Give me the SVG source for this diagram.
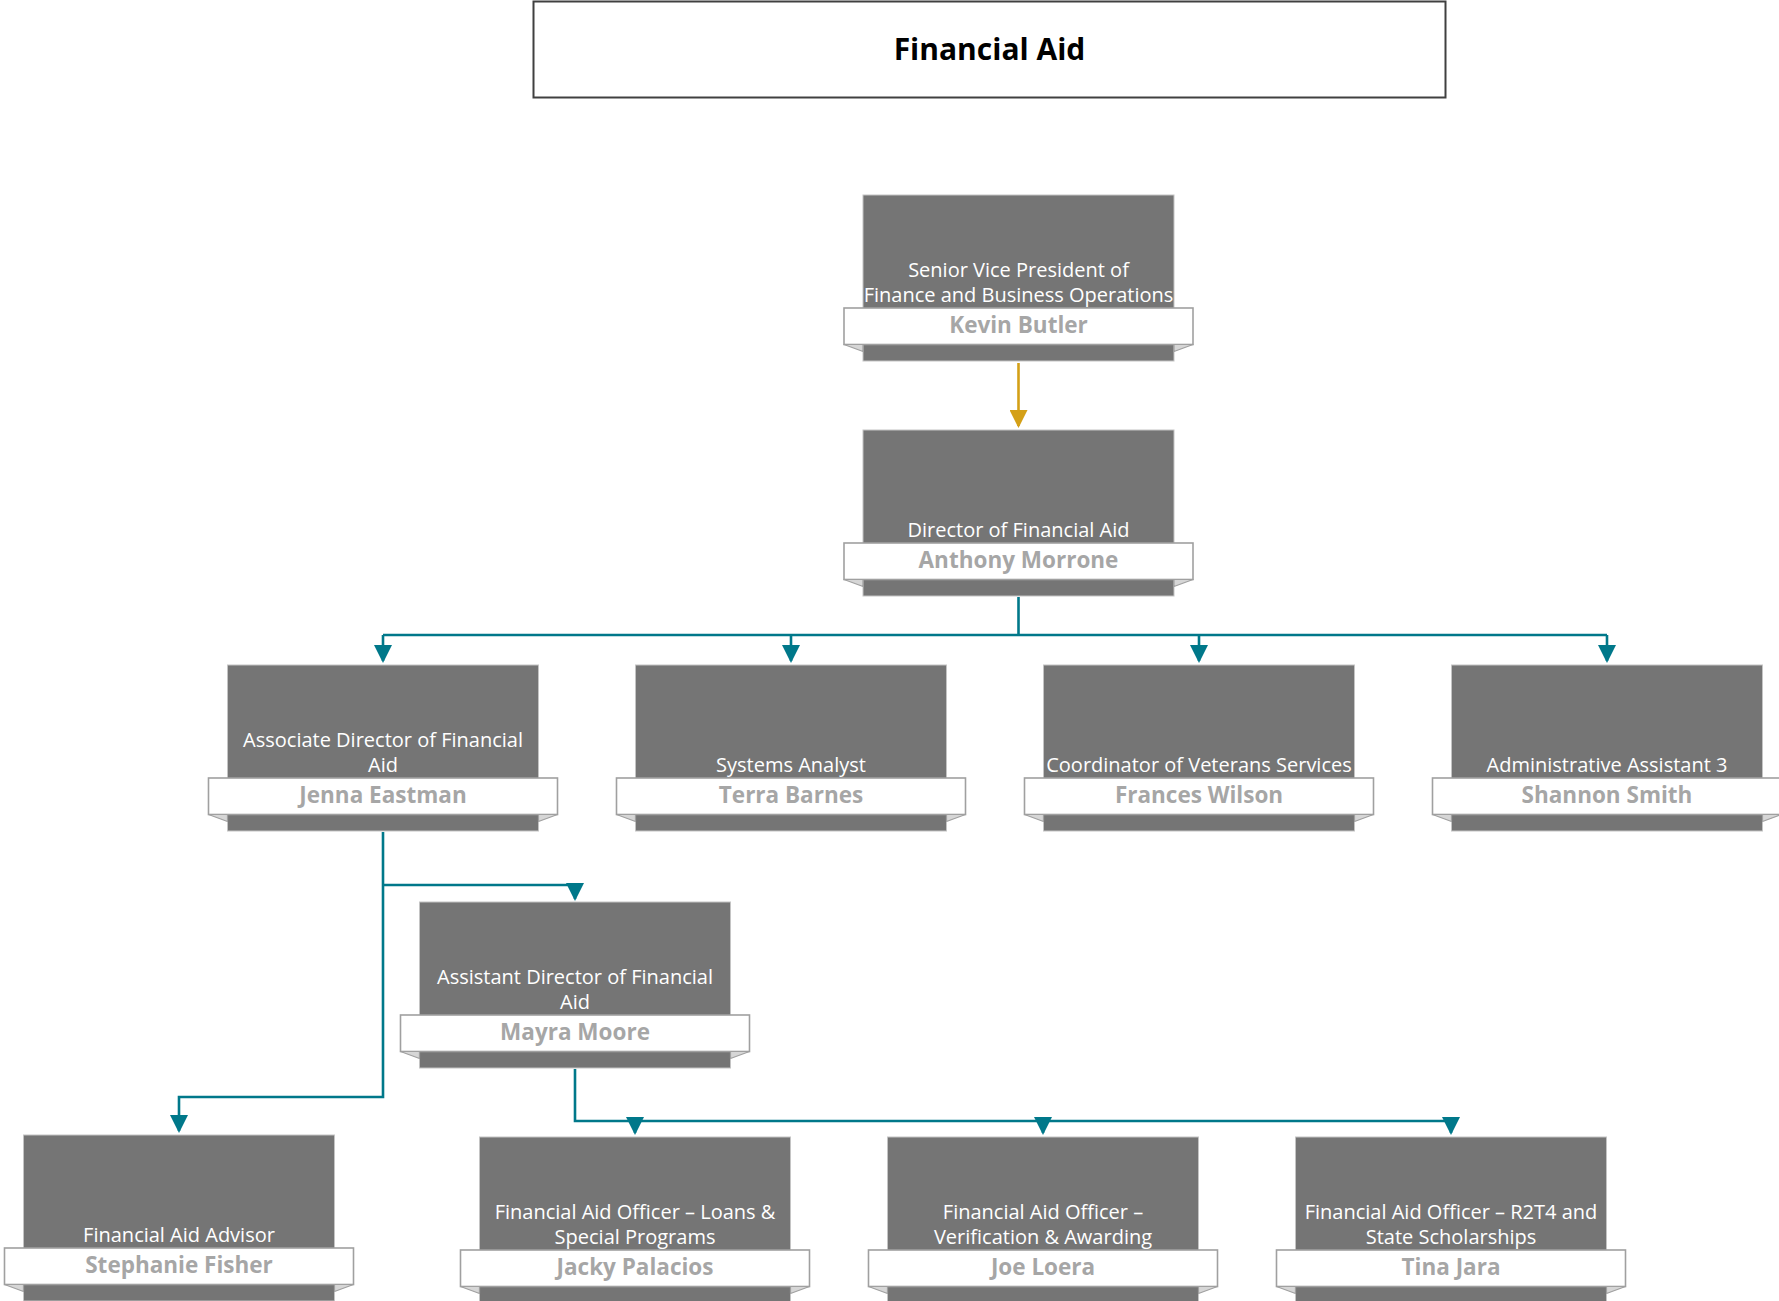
<svg xmlns="http://www.w3.org/2000/svg" width="1779" height="1301" viewBox="0 0 1779 1301">
<style>
.bg{fill:#ffffff}
.box{fill:#757575;stroke:#c4c4c4;stroke-width:1}
.ban{fill:#ffffff;stroke:#a0a0a0;stroke-width:1.6}
.fold{fill:#d6d6d6;stroke:#a0a0a0;stroke-width:1.2;stroke-linejoin:round}
.role{font-family:"Open Sans","Noto Sans","DejaVu Sans",sans-serif;font-size:20px;fill:#ffffff;text-anchor:middle}
.name{font-family:"Open Sans","Noto Sans","DejaVu Sans",sans-serif;font-size:22.5px;font-weight:bold;fill:#a6a6a6;text-anchor:middle}
.title{font-family:"Open Sans","Noto Sans","DejaVu Sans",sans-serif;font-size:30px;font-weight:bold;fill:#000000;text-anchor:middle}
.tl{fill:none;stroke:#00788a;stroke-width:2.6}
.gl{fill:none;stroke:#d4a017;stroke-width:2.6}
</style>
<defs>
<marker id="at" markerUnits="userSpaceOnUse" markerWidth="18" markerHeight="18" refX="16" refY="9" orient="auto"><path d="M0,0 L18,9 L0,18 z" fill="#00788a"/></marker>
<marker id="ag" markerUnits="userSpaceOnUse" markerWidth="18" markerHeight="18" refX="16" refY="9" orient="auto"><path d="M0,0 L18,9 L0,18 z" fill="#d4a017"/></marker>
<g id="card">
<rect class="box" x="-155.5" y="0" width="311" height="166"/>
<rect class="ban" x="-174.5" y="113" width="349" height="36.5"/>
<polygon class="fold" points="-174.5,149.5 -155.5,156.5 -155.5,149.5"/>
<polygon class="fold" points="174.5,149.5 155.5,156.5 155.5,149.5"/>
</g>
</defs>
<rect class="bg" x="0" y="0" width="1779" height="1301"/>

<g id="title">
<rect x="533.5" y="1.5" width="912" height="96" fill="#ffffff" stroke="#404040" stroke-width="2"/>
<text class="title" x="989.5" y="60">Financial Aid</text>
</g>

<g id="connectors">
<path class="gl" d="M1018.5,363 V426" marker-end="url(#ag)"/>
<path class="tl" d="M1018.5,597 V635"/>
<path class="tl" d="M383,635 H1607"/>
<path class="tl" d="M383,635 V661" marker-end="url(#at)"/>
<path class="tl" d="M791,635 V661" marker-end="url(#at)"/>
<path class="tl" d="M1199,635 V661" marker-end="url(#at)"/>
<path class="tl" d="M1607,635 V661" marker-end="url(#at)"/>
<path class="tl" d="M383,832 V1097 H179 V1131" marker-end="url(#at)"/>
<path class="tl" d="M383,885 H575 V899" marker-end="url(#at)"/>
<path class="tl" d="M575,1069 V1121 H1451"/>
<path class="tl" d="M635,1121 V1133" marker-end="url(#at)"/>
<path class="tl" d="M1043,1121 V1133" marker-end="url(#at)"/>
<path class="tl" d="M1451,1121 V1133" marker-end="url(#at)"/>
</g>

<g id="n-svp" transform="translate(1018.5,195)">
<use href="#card"/>
<text class="role" x="0" y="82">Senior Vice President of</text>
<text class="role" x="0" y="107">Finance and Business Operations</text>
<text class="name" x="0" y="138">Kevin Butler</text>
</g>

<g id="n-director" transform="translate(1018.5,430)">
<use href="#card"/>
<text class="role" x="0" y="107">Director of Financial Aid</text>
<text class="name" x="0" y="138">Anthony Morrone</text>
</g>

<g id="n-assoc" transform="translate(383,665)">
<use href="#card"/>
<text class="role" x="0" y="82">Associate Director of Financial</text>
<text class="role" x="0" y="107">Aid</text>
<text class="name" x="0" y="138">Jenna Eastman</text>
</g>

<g id="n-systems" transform="translate(791,665)">
<use href="#card"/>
<text class="role" x="0" y="107">Systems Analyst</text>
<text class="name" x="0" y="138">Terra Barnes</text>
</g>

<g id="n-veterans" transform="translate(1199,665)">
<use href="#card"/>
<text class="role" x="0" y="107">Coordinator of Veterans Services</text>
<text class="name" x="0" y="138">Frances Wilson</text>
</g>

<g id="n-admin" transform="translate(1607,665)">
<use href="#card"/>
<text class="role" x="0" y="107">Administrative Assistant 3</text>
<text class="name" x="0" y="138">Shannon Smith</text>
</g>

<g id="n-assistant" transform="translate(575,902)">
<use href="#card"/>
<text class="role" x="0" y="82">Assistant Director of Financial</text>
<text class="role" x="0" y="107">Aid</text>
<text class="name" x="0" y="138">Mayra Moore</text>
</g>

<g id="n-advisor" transform="translate(179,1135)">
<use href="#card"/>
<text class="role" x="0" y="107">Financial Aid Advisor</text>
<text class="name" x="0" y="138">Stephanie Fisher</text>
</g>

<g id="n-loans" transform="translate(635,1137)">
<use href="#card"/>
<text class="role" x="0" y="82">Financial Aid Officer – Loans &amp;</text>
<text class="role" x="0" y="107">Special Programs</text>
<text class="name" x="0" y="138">Jacky Palacios</text>
</g>

<g id="n-verification" transform="translate(1043,1137)">
<use href="#card"/>
<text class="role" x="0" y="82">Financial Aid Officer –</text>
<text class="role" x="0" y="107">Verification &amp; Awarding</text>
<text class="name" x="0" y="138">Joe Loera</text>
</g>

<g id="n-r2t4" transform="translate(1451,1137)">
<use href="#card"/>
<text class="role" x="0" y="82">Financial Aid Officer – R2T4 and</text>
<text class="role" x="0" y="107">State Scholarships</text>
<text class="name" x="0" y="138">Tina Jara</text>
</g>
</svg>
